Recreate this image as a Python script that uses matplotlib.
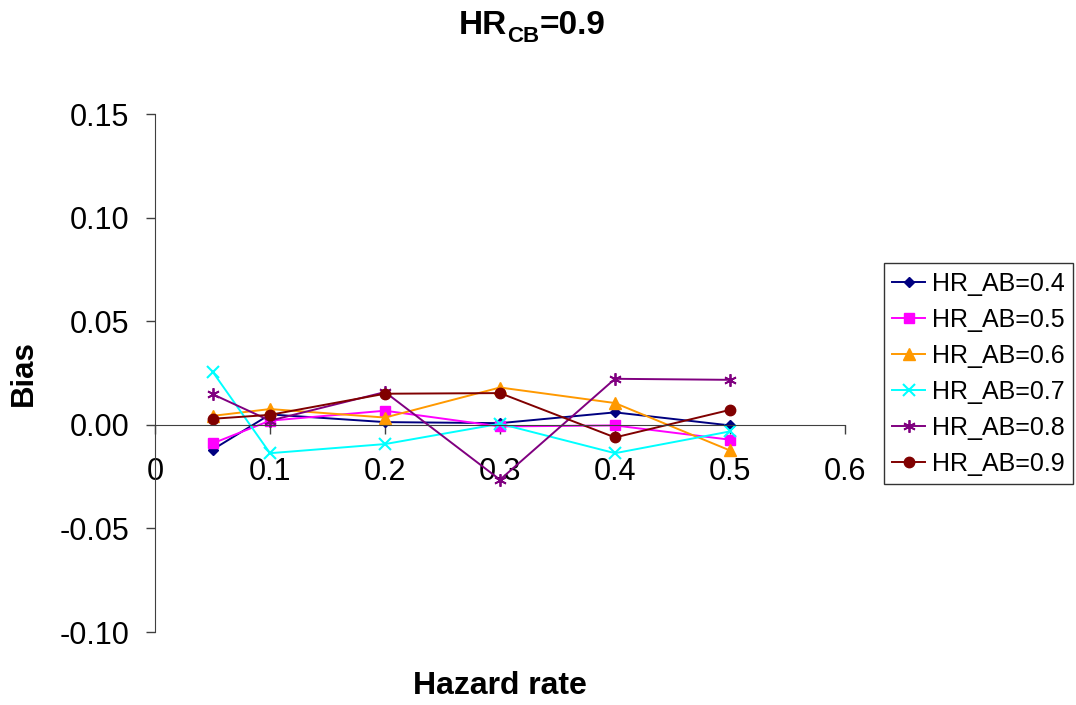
import matplotlib
matplotlib.use("Agg")
import matplotlib.pyplot as plt
from matplotlib.ticker import FixedLocator, FixedFormatter
from matplotlib.transforms import offset_copy

plt.rcParams['font.family'] = ['Liberation Sans', 'DejaVu Sans']

# Hazard rates on the x axis
hazard_rate = [0.05, 0.1, 0.2, 0.3, 0.4, 0.5]

# Bias for each HR_AB setting
bias_04 = [-0.012, 0.005, 0.0013, 0.0008, 0.006, -0.0003]
bias_05 = [-0.009, 0.002, 0.0068, -0.0008, -0.0003, -0.0072]
bias_06 = [0.0043, 0.0076, 0.0035, 0.018, 0.0105, -0.0124]
bias_07 = [0.0257, -0.0137, -0.0093, 0.0005, -0.0137, -0.0032]
bias_08 = [0.0148, 0.002, 0.0158, -0.0265, 0.0222, 0.0217]
bias_09 = [0.0029, 0.0048, 0.015, 0.0153, -0.0061, 0.0072]

series_labels = ["HR_AB=0.4", "HR_AB=0.5", "HR_AB=0.6",
                 "HR_AB=0.7", "HR_AB=0.8", "HR_AB=0.9"]

x_ticks = [0, 0.1, 0.2, 0.3, 0.4, 0.5, 0.6]
x_tick_labels = ["0", "0.1", "0.2", "0.3", "0.4", "0.5", "0.6"]
y_ticks = [-0.10, -0.05, 0.00, 0.05, 0.10, 0.15]
y_tick_labels = ["-0.10", "-0.05", "0.00", "0.05", "0.10", "0.15"]

styles = [
    dict(color="#000080", marker="D", markersize=5.5),
    dict(color="#FF00FF", marker="s", markersize=7),
    dict(color="#FF9900", marker="^", markersize=8),
    dict(color="#00FFFF", marker="x", markersize=8, markeredgewidth=1.5),
    dict(color="#800080", marker=(6, 2, 0), markersize=9, markeredgewidth=1.3),
    dict(color="#800000", marker="o", markersize=7.5),
]

W, H = 1076, 705
fig = plt.figure(figsize=(W / 100, H / 100), dpi=100)
ax = fig.add_axes([155 / W, 1 - 632 / H, 690 / W, 518 / H])

all_bias = [bias_04, bias_05, bias_06, bias_07, bias_08, bias_09]
for vals, lab, st in zip(all_bias, series_labels, styles):
    ax.plot(hazard_rate, vals, label=lab, linewidth=1.4, **st)

ax.set_xlim(0, 0.6)
ax.set_ylim(-0.10, 0.15)

ax.spines['top'].set_visible(False)
ax.spines['right'].set_visible(False)
ax.spines['bottom'].set_position(('data', 0))
ax.spines['bottom'].set_color('#404040')
ax.spines['left'].set_color('#404040')

ax.xaxis.set_major_locator(FixedLocator(x_ticks))
ax.xaxis.set_major_formatter(FixedFormatter(x_tick_labels))
ax.yaxis.set_major_locator(FixedLocator(y_ticks))
ax.yaxis.set_major_formatter(FixedFormatter(y_tick_labels))
ax.tick_params(axis='both', direction='out', length=6.5, width=1, color='#404040',
               labelsize=22)
ax.tick_params(axis='x', pad=17)
ax.tick_params(axis='y', pad=12)

# Axis titles
fig.text(23.5 / W, 1 - 373 / H, "Bias", rotation=90, ha='center', va='center',
         fontsize=22.5, fontweight='bold')
fig.text(500 / W, 1 - 686 / H, "Hazard rate", ha='center', va='center',
         fontsize=23, fontweight='bold')

# Chart title built from pieces: HR, subscript CB, then =0.9
renderer = fig.canvas.get_renderer()
parts = [("HR", 24, 0), ("CB", 16, -7), ("=0.9", 24, 0)]
widths = []
for txt, size, _ in parts:
    t = fig.text(0, 0, txt, fontsize=size, fontweight='bold')
    widths.append(t.get_window_extent(renderer).width)
    t.remove()
total = sum(widths)
x0 = 532 - total / 2
base_y = 1 - 34.5 / H
for (txt, size, dy), w in zip(parts, widths):
    tr = offset_copy(fig.transFigure, fig=fig, x=x0, y=dy, units='dots')
    fig.text(0, base_y, txt, fontsize=size, fontweight='bold',
             ha='left', va='baseline', transform=tr)
    x0 += w

leg = fig.legend(loc='center left', bbox_to_anchor=(884 / W, 1 - 373.5 / H),
                 fontsize=18, frameon=True, fancybox=False, edgecolor='black',
                 handlelength=1.3, handletextpad=0.3, borderpad=0.33,
                 labelspacing=0.48, borderaxespad=0)
leg.get_frame().set_linewidth(1.0)

fig.savefig("out.png", dpi=100)
